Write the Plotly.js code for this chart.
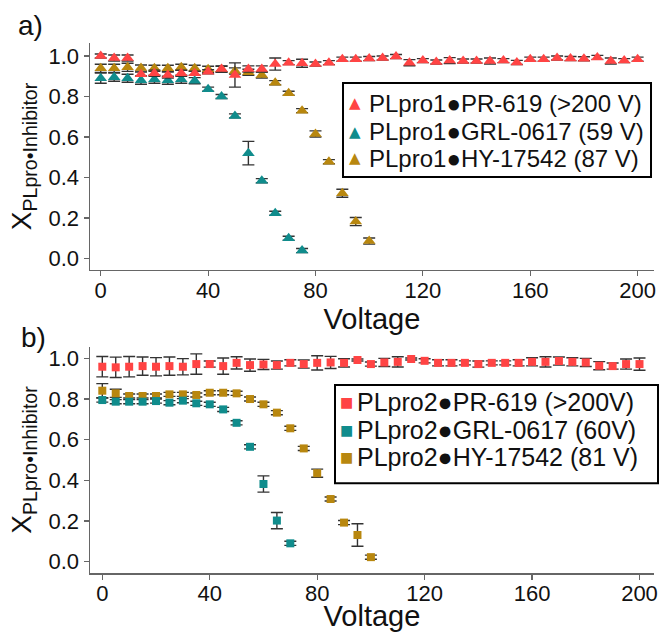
<!DOCTYPE html>
<html><head><meta charset="utf-8">
<script src="https://cdn.plot.ly/plotly-3.0.1.min.js"></script>
<style>html,body{margin:0;padding:0;background:#fff}</style>
</head><body><div id="chart" style="width:661px;height:632px"></div>
<script>
// ---------- data ----------
const voltsFull = [0,5,10,15,20,25,30,35,40,45,50,55,60,65,70,75,80,85,90,95,100,105,110,115,120,125,130,135,140,145,150,155,160,165,170,175,180,185,190,195,200];
// panel a) PLpro1
const a_PR = [1.00,0.99,0.99,0.91,0.915,0.906,0.915,0.915,0.922,0.936,0.906,0.936,0.936,0.96,0.967,0.964,0.96,0.967,0.984,0.984,0.987,0.99,0.997,0.967,0.977,0.97,0.977,0.975,0.975,0.975,0.977,0.968,0.984,0.984,0.99,0.987,0.986,0.993,0.975,0.977,0.984];
const a_PR_err = [0.01,0.015,0.015,0.01,0.015,0.015,0.015,0.01,0.01,0.015,0.06,0.015,0.015,0.03,0.01,0.02,0.01,0.01,0.01,0.01,0.01,0.01,0.01,0.015,0.01,0.01,0.015,0.01,0.01,0.015,0.01,0.01,0.01,0.01,0.01,0.01,0.01,0.01,0.015,0.01,0.01];
const a_GRL_x = [0,5,10,15,20,25,30,35,40,45,50,55,60,65,70,75];
const a_GRL = [0.89,0.895,0.89,0.88,0.885,0.88,0.885,0.878,0.836,0.80,0.704,0.52,0.384,0.223,0.10,0.039];
const a_GRL_err = [0.025,0.02,0.02,0.02,0.02,0.02,0.02,0.015,0.01,0.01,0.01,0.058,0.01,0.01,0.01,0.01];
const a_HY_x = [0,5,10,15,20,25,30,35,40,45,50,55,60,65,70,75,80,85,90,95,100];
const a_HY = [0.939,0.939,0.944,0.94,0.939,0.939,0.944,0.939,0.934,0.934,0.926,0.919,0.906,0.868,0.816,0.73,0.615,0.478,0.322,0.182,0.086];
const a_HY_err = [0.02,0.02,0.02,0.015,0.015,0.015,0.015,0.015,0.015,0.015,0.015,0.015,0.015,0.01,0.01,0.01,0.015,0.01,0.02,0.02,0.015];
// panel b) PLpro2
const b_PR = [0.959,0.956,0.959,0.962,0.959,0.962,0.959,0.972,0.972,0.962,0.978,0.967,0.97,0.967,0.978,0.972,0.978,0.98,0.978,0.992,0.972,0.98,0.983,0.997,0.988,0.978,0.978,0.978,0.972,0.978,0.978,0.978,0.983,0.983,0.987,0.983,0.98,0.964,0.962,0.972,0.972];
const b_PR_err = [0.05,0.05,0.05,0.045,0.045,0.045,0.04,0.05,0.015,0.04,0.03,0.03,0.025,0.02,0.015,0.02,0.035,0.03,0.02,0.005,0.01,0.02,0.025,0.005,0.01,0.015,0.015,0.01,0.015,0.01,0.01,0.015,0.02,0.025,0.02,0.02,0.02,0.02,0.015,0.025,0.03];
const b_GRL_x = [0,5,10,15,20,25,30,35,40,45,50,55,60,65,70];
const b_GRL = [0.795,0.787,0.787,0.787,0.79,0.782,0.792,0.779,0.774,0.749,0.683,0.565,0.382,0.202,0.09];
const b_GRL_err = [0.01,0.01,0.01,0.01,0.01,0.01,0.01,0.01,0.01,0.01,0.01,0.01,0.04,0.04,0.01];
const b_HY_x = [0,5,10,15,20,25,30,35,40,45,50,55,60,65,70,75,80,85,90,95,100];
const b_HY = [0.841,0.828,0.815,0.815,0.815,0.823,0.823,0.82,0.831,0.831,0.828,0.80,0.774,0.733,0.656,0.557,0.435,0.308,0.192,0.131,0.022];
const b_HY_err = [0.035,0.02,0.01,0.01,0.01,0.01,0.01,0.01,0.01,0.01,0.01,0.01,0.01,0.01,0.01,0.01,0.02,0.01,0.01,0.055,0.01];

const namesA = ['PLpro1●PR-619 (>200 V)','PLpro1●GRL-0617 (59 V)','PLpro1●HY-17542 (87 V)'];
const namesB = ['PLpro2●PR-619 (>200V)','PLpro2●GRL-0617 (60V)','PLpro2●HY-17542 (81 V)'];
const seriesColors = ['#FF4444', '#108C8C', '#B8870F']; // PR-619, GRL-0617, HY-17542
const xTicks = [0,40,80,120,160,200];

function tr(x, y, e, name, color, symbol, size, xa, ya){
  return {x:x, y:y, name:name, type:'scatter', mode:'markers', xaxis:xa, yaxis:ya, showlegend:false,
    marker:{color:color, symbol:symbol, size:size, line:{width:0}},
    error_y:{type:'data', array:e, visible:true, color:'#333', thickness:1.4, width:6}};
}
const data = [
  tr(a_HY_x, a_HY, a_HY_err, namesA[2], seriesColors[2], 'triangle-up', 11, 'x', 'y'),
  tr(a_GRL_x, a_GRL, a_GRL_err, namesA[1], seriesColors[1], 'triangle-up', 11, 'x', 'y'),
  tr(voltsFull, a_PR, a_PR_err, namesA[0], seriesColors[0], 'triangle-up', 11, 'x', 'y'),
  tr(b_HY_x, b_HY, b_HY_err, namesB[2], seriesColors[2], 'square', 8, 'x2', 'y2'),
  tr(b_GRL_x, b_GRL, b_GRL_err, namesB[1], seriesColors[1], 'square', 8, 'x2', 'y2'),
  tr(voltsFull, b_PR, b_PR_err, namesB[0], seriesColors[0], 'square', 8, 'x2', 'y2')
];

const FONT = 'Liberation Sans, Arial, sans-serif';
function xAxis(standoff){ return {
  tickvals:xTicks, ticks:'outside', ticklen:5, tickcolor:'#666', tickwidth:1.2, ticklabelstandoff:-5,
  showline:true, linecolor:'#666', linewidth:1.5, showgrid:false, zeroline:false,
  tickfont:{size:22, color:'#111', family:FONT},
  title:{text:'Voltage', font:{size:29, color:'#111', family:FONT}, standoff:standoff}
};}
const yCommon = {
  dtick:0.2, tick0:0, tickformat:'.1f', ticks:'outside', ticklen:5, tickcolor:'#666', tickwidth:1.2,
  showline:true, linecolor:'#666', linewidth:1.5, showgrid:false, zeroline:false,
  tickfont:{size:22, color:'#111', family:FONT},
  title:{text:'X<sub>PLpro•Inhibitor</sub>', font:{size:28, color:'#111', family:FONT}, standoff:8}
};

// manual legend boxes (paper coordinates) so that row spacing matches the reference
const legA = {x0:0.4486, x1:0.9947, y0:0.7472, y1:0.9245, symX:0.4699, txtX:0.4929, rows:[0.8862,0.8326,0.7825], sym:'▲', symSize:15, size:24};
const legB = {x0:0.4344, x1:1.0071, y0:0.1692, y1:0.3547, symX:0.4551, txtX:0.4716, rows:[0.3232,0.2698,0.2194], sym:'■', symSize:14, size:25};
const shapes = [], annotations = [];
[[legA, namesA], [legB, namesB]].forEach(([L, nm]) => {
  shapes.push({type:'rect', xref:'paper', yref:'paper', x0:L.x0, x1:L.x1, y0:L.y0, y1:L.y1,
    line:{color:'#000', width:2}, fillcolor:'#fff', layer:'above'});
  nm.forEach((n, i) => {
    annotations.push({text:L.sym, xref:'paper', yref:'paper', x:L.symX, y:L.rows[i], xanchor:'center', yanchor:'middle',
      showarrow:false, font:{size:L.symSize, color:seriesColors[i], family:'DejaVu Sans'}});
    annotations.push({text:n, xref:'paper', yref:'paper', x:L.txtX, y:L.rows[i], xanchor:'left', yanchor:'middle',
      showarrow:false, borderpad:0, font:{size:L.size, color:'#111', family:FONT}});
  });
});
annotations.push({text:'a)', xref:'paper', yref:'paper', x:-0.105, y:1.0, yshift:18, xanchor:'center', yanchor:'middle', showarrow:false, font:{size:28, color:'#111', family:FONT}});
annotations.push({text:'b)', xref:'paper', yref:'paper', x:-0.1, y:0.4264, yshift:10, xanchor:'center', yanchor:'middle', showarrow:false, font:{size:28, color:'#111', family:FONT}});

const layout = {
  width:661, height:632, paper_bgcolor:'#fff', plot_bgcolor:'#fff',
  margin:{l:90, r:7, t:43, b:59},
  showlegend:false,
  xaxis:Object.assign(xAxis(0), {anchor:'y', domain:[0,1], range:[-4.0,206.1]}),
  yaxis:Object.assign({}, yCommon, {anchor:'x', domain:[0.5717,1], range:[-0.057,1.064]}),
  xaxis2:Object.assign(xAxis(5), {anchor:'y2', domain:[0,1], range:[-4.58,205.4]}),
  yaxis2:Object.assign({}, yCommon, {anchor:'x2', domain:[0,0.4264], range:[-0.056,1.056]}),
  shapes:shapes,
  annotations:annotations
};
Plotly.newPlot('chart', data, layout, {displayModeBar:false, staticPlot:true});
</script>
</body></html>
